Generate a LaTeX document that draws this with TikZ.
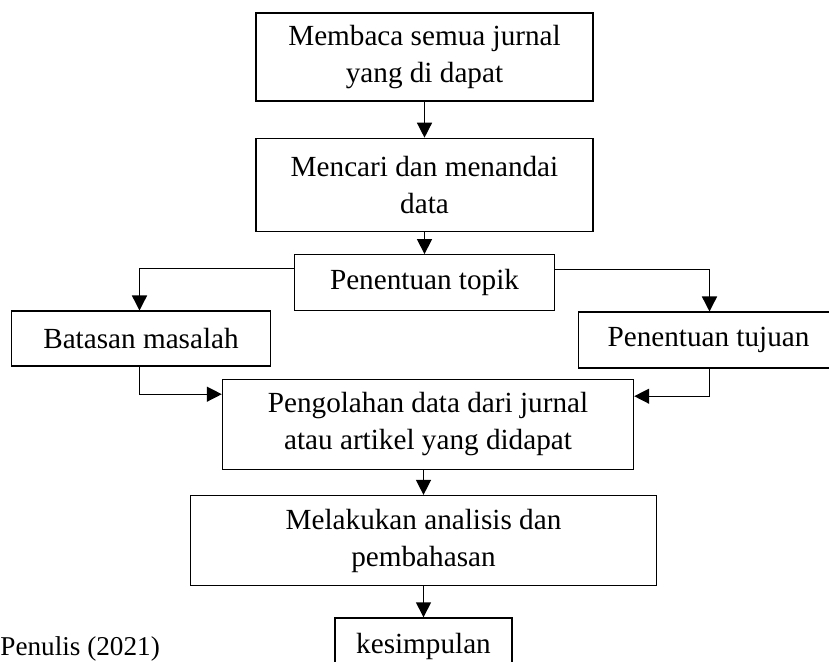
\documentclass[tikz,border=0pt]{standalone}
\usepackage{fontspec}
\setmainfont{Liberation Serif}
\usetikzlibrary{arrows.meta,positioning,calc}

\begin{document}
\begin{tikzpicture}[
  stepbox/.style={
    draw=black, line width=0.7pt, align=center, inner sep=2pt,
    font=\fontsize{14.6pt}{18.5pt}\selectfont
  },
  arrow/.style={-{Triangle[length=7.5pt,width=7.5pt]}, line width=0.7pt, draw=black}
]
  \useasboundingbox (0,0) rectangle (414.5pt,-331pt);

  % Main column
  \node[stepbox, minimum width=168.5pt, minimum height=44pt] (baca) at (212.25pt,-28.5pt)
    {Membaca semua jurnal\\yang di dapat};
  \node[stepbox, below=18pt of baca, minimum width=168.5pt, minimum height=46.5pt] (cari)
    {Mencari dan menandai\\data};
  \node[stepbox, below=11pt of cari, minimum width=130pt, minimum height=28pt] (topik)
    {Penentuan topik};

  % Side branches
  \node[stepbox, below=-0.5pt of topik, xshift=-141.75pt, minimum width=129.5pt, minimum height=27.5pt] (batasan)
    {Batasan masalah};
  \node[stepbox, below=0pt of topik, xshift=142pt, minimum width=130pt, minimum height=28pt] (tujuan)
    {Penentuan tujuan};

  % Lower column
  \node[stepbox, below=33.5pt of topik, xshift=1.75pt, minimum width=205.5pt, minimum height=45pt] (olah)
    {Pengolahan data dari jurnal\\atau artikel yang didapat};
  \node[stepbox, below=12.5pt of olah, xshift=-2.25pt, minimum width=233pt, minimum height=45pt] (analisis)
    {Melakukan analisis dan\\pembahasan};
  \node[stepbox, below=15.5pt of analisis, minimum width=88.5pt, minimum height=28pt] (simpul)
    {kesimpulan};

  % Source note
  \node[anchor=base west, inner sep=0pt, font=\fontsize{13.6pt}{16pt}\selectfont] (sumber) at (0,-327.5pt)
    {Penulis (2021)};

  % Connectors
  \draw[arrow] (baca.south) -- (cari.north);
  \draw[arrow] (cari.south) -- (topik.north);
  \draw[arrow] ([yshift=7pt]topik.west) -| ([xshift=-0.75pt]batasan.north);
  \draw[arrow] ([yshift=6.5pt]topik.east) -| ([xshift=0.5pt]tujuan.north);
  \draw[arrow] ([xshift=-0.75pt]batasan.south) |- ([yshift=15pt]olah.west);
  \draw[arrow] ([xshift=0.5pt]tujuan.south) |- ([yshift=14pt]olah.east);
  \draw[arrow] (olah.south -| analisis.north) -- (analisis.north);
  \draw[arrow] (analisis.south) -- (simpul.north);
\end{tikzpicture}
\end{document}
